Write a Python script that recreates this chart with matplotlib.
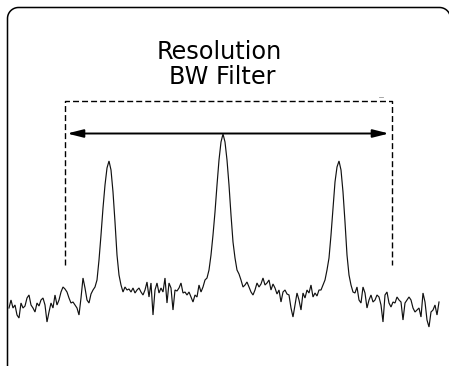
import matplotlib
matplotlib.use("Agg")
import matplotlib.pyplot as plt
import numpy as np

# ---- data: spectrum trace (arbitrary level units), sampled every 2 frequency units
freq_start, freq_stop, freq_step = 9, 439, 2
level = [
    12, 20, 12, 15, 5, 2, 17, 12, 14, 22,
    25, 15, 12, 8, 17, 14, 20, 22, 15, -2,
    8, 17, 12, 25, 15, 20, 28, 33, 31, 28,
    22, 17, 18, 15, 12, 5, 22, 42, 32, 20,
    17, 26, 30, 33, 40, 60, 85, 112, 135, 152,
    159, 150, 128, 98, 65, 45, 35, 28, 33, 30,
    31, 28, 32, 27, 30, 32, 28, 25, 30, 38,
    23, 37, 5, 30, 37, 27, 32, 28, 42, 17,
    37, 32, 10, 30, 29, 32, 37, 27, 28, 25,
    28, 23, 18, 25, 23, 35, 28, 33, 40, 42,
    50, 65, 85, 108, 135, 160, 178, 186, 178, 160,
    135, 105, 78, 62, 50, 46, 40, 33, 35, 38,
    33, 28, 25, 30, 37, 33, 36, 42, 35, 37,
    40, 30, 36, 32, 26, 30, 18, 28, 30, 26,
    25, 12, 3, 15, 27, 20, 10, 27, 22, 30,
    27, 35, 23, 27, 24, 30, 30, 35, 40, 50,
    62, 85, 112, 138, 153, 159, 150, 128, 98, 65,
    45, 35, 28, 27, 33, 20, 17, 33, 27, 12,
    20, 25, 18, 20, 25, 23, 15, -2, 25, 28,
    17, 13, 18, 17, 23, 20, 18, 0, 17, 20,
    23, 20, 12, 8, 10, 12, 3, 27, 18, 0,
    -7, 8, 10, 15, 5, 18,
]
freq = np.arange(freq_start, freq_stop + 1, freq_step)

title_lines = ["Resolution", "BW Filter"]

plt.rcParams['lines.scale_dashes'] = False

W, H = 449, 366
fig = plt.figure(figsize=(W / 100, H / 100), dpi=100)
fig.patch.set_facecolor('white')

# decoration axes in pixel-like layout units
deco = fig.add_axes([0, 0, 1, 1])
deco.set_xlim(0, W)
deco.set_ylim(H, 0)
deco.axis('off')

# trace axes
tr = fig.add_axes([0, 0, 1, 1])
tr.set_xlim(0, W)
tr.set_ylim(-46, 320)
tr.axis('off')
tr.patch.set_alpha(0)

tr.plot(freq, level, color='#111111', lw=0.85, solid_joinstyle='miter')

# rounded border outline: left edge + top edge with rounded corners
r = 11
L, T, R = 7.5, 7.5, 450.5
a1 = np.linspace(np.pi, 1.5 * np.pi, 20)      # top-left corner
a2 = np.linspace(1.5 * np.pi, 2 * np.pi, 20)  # top-right corner
bx = np.concatenate([[L], L + r + r * np.cos(a1), R - r + r * np.cos(a2)])
by = np.concatenate([[H + 5], T + r + r * np.sin(a1), T + r + r * np.sin(a2)])
deco.plot(bx, by, color='black', lw=1.1, solid_joinstyle='round')

# dashed bracket
deco.plot([64.5, 64.5, 392, 392], [265, 100.5, 100.5, 265],
          color='black', lw=1.0, ls=(0, (4.3, 2.2)))
deco.plot([379, 383], [96.5, 96.5], color='#999999', lw=0.6)

# double arrow
deco.annotate('', xy=(389, 133.5), xytext=(67, 133.5),
              arrowprops=dict(arrowstyle='<|-|>,head_length=0.8,head_width=0.2',
                              mutation_scale=12, color='black', lw=1.4,
                              shrinkA=0, shrinkB=0))

# labels
deco.text(219, 59, title_lines[0], ha='center', va='baseline',
          fontsize=17.3, family='DejaVu Sans', color='black')
deco.text(222.5, 84, title_lines[1], ha='center', va='baseline',
          fontsize=17.3, family='DejaVu Sans', color='black')

fig.savefig('out.png', dpi=100)
